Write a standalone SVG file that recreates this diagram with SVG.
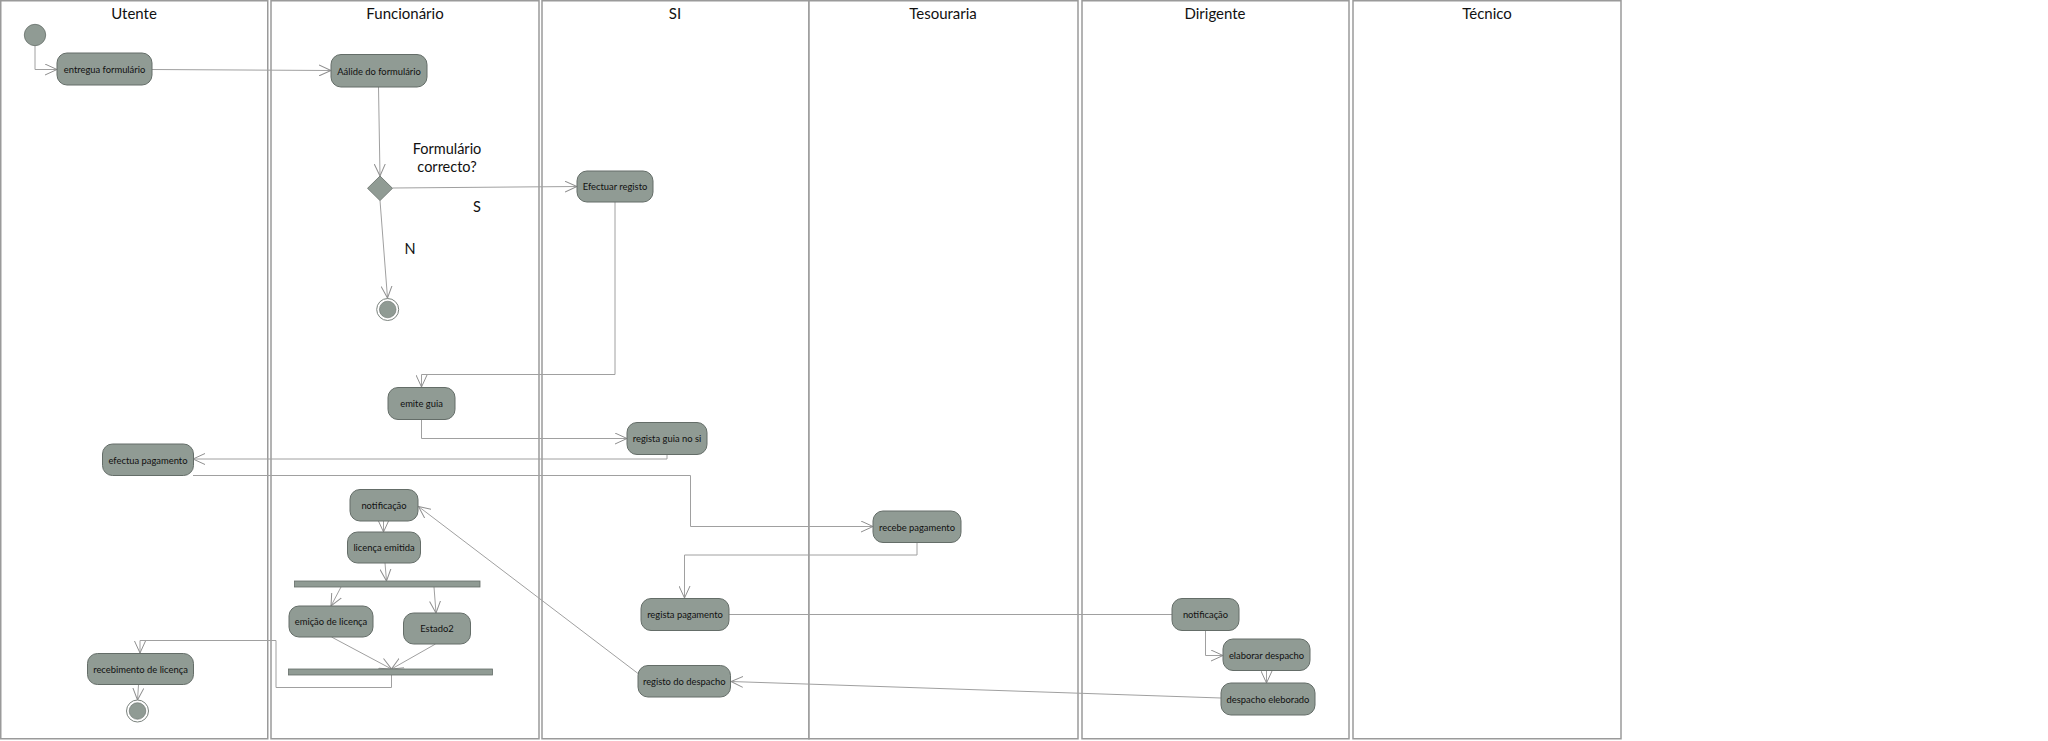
<svg xmlns="http://www.w3.org/2000/svg" width="2048" height="741" viewBox="0 0 2048 741">
<defs>
<marker id="arr" markerUnits="userSpaceOnUse" markerWidth="14" markerHeight="12" refX="12" refY="6" orient="auto" viewBox="0 0 14 12">
<path d="M0,0.5 L12,6 L0,11.5" fill="none" stroke="#8f8f8f" stroke-width="1"/>
</marker>
</defs>
<style>
.lane{fill:#ffffff;stroke:#9a9a9a;stroke-width:1.5}
.hdr{font-family:Lato,"Open Sans",sans-serif;font-size:15px;fill:#111;text-anchor:middle}
.node{fill:#909b94;stroke:#646d68;stroke-width:1}
.lbl{font-family:Lato,"Open Sans",sans-serif;font-size:9.4px;fill:#111;text-anchor:middle;dominant-baseline:central}
.big{font-family:Lato,"Open Sans",sans-serif;font-size:14.5px;fill:#111;text-anchor:middle}
.c{fill:none;stroke:#a0a0a0;stroke-width:1}
.ca{fill:none;stroke:#a0a0a0;stroke-width:1;marker-end:url(#arr)}
.bar{fill:#909b94;stroke:#646d68;stroke-width:0.8}
</style>
<rect width="2048" height="741" fill="#ffffff"/>
<g id="lanes">
<rect class="lane" x="0.75" y="0.75" width="267" height="738"/>
<rect class="lane" x="271" y="0.75" width="268" height="738"/>
<rect class="lane" x="542" y="0.75" width="267" height="738"/>
<rect class="lane" x="809" y="0.75" width="269" height="738"/>
<rect class="lane" x="1082" y="0.75" width="267" height="738"/>
<rect class="lane" x="1353" y="0.75" width="268" height="738"/>
<text class="hdr" x="134" y="19">Utente</text>
<text class="hdr" x="405" y="19">Funcionário</text>
<text class="hdr" x="675" y="19">SI</text>
<text class="hdr" x="943" y="19">Tesouraria</text>
<text class="hdr" x="1215" y="19">Dirigente</text>
<text class="hdr" x="1487" y="19">Técnico</text>
</g>
<g id="connectors">
<path class="ca" d="M35,46 L35,69.5 L57,69.5"/>
<path class="ca" d="M152,69.5 L331,70.5"/>
<path class="ca" d="M378.5,87 L380,176"/>
<path class="ca" d="M392.5,188 L577,186.5"/>
<path class="ca" d="M380,200.5 L387.5,298"/>
<path class="ca" d="M615,202 L615,374.5 L421.5,374.5 L421.5,387"/>
<path class="ca" d="M421.5,419 L421.5,438.5 L627,438.5"/>
<path class="ca" d="M667,454.5 L667,459 L193,459"/>
<path class="ca" d="M193,475.5 L690.5,475.5 L690.5,526.5 L873,526.5"/>
<path class="ca" d="M917,542 L917,555 L684.5,555 L684.5,598"/>
<path class="c" d="M729,614.5 L1172,614.5" stroke-width="1.6"/>
<path class="ca" d="M1205.5,630.5 L1205.5,655.5 L1223,655.5"/>
<path class="ca" d="M1266.5,670.5 L1266.5,683"/>
<path class="ca" d="M1221,698 L731,681.5"/>
<path class="ca" d="M640,675 L418.5,506.5"/>
<path class="ca" d="M383.5,521 L383.5,532"/>
<path class="ca" d="M385,563 L386.5,581"/>
<path class="ca" d="M341,587 L331,606"/>
<path class="ca" d="M434,587 L436,613"/>
<path class="ca" d="M331.5,637 L391.5,669"/>
<path class="ca" d="M435.5,644 L391.5,669"/>
<path class="ca" d="M391.5,675 L391.5,687.5 L276,687.5 L276,640.5 L140,640.5 L140,653"/>
<path class="ca" d="M138.5,685 L137.5,700"/>
</g>
<g id="start">
<circle cx="35" cy="35" r="10.7" fill="#909b94" stroke="#646d68" stroke-width="0.8"/>
</g>
<g id="n-entregua">
<rect class="node" x="57" y="53" width="95" height="32" rx="10"/>
<text class="lbl" x="104.5" y="69">entregua formulário</text>
</g>
<g id="n-aalide">
<rect class="node" x="331" y="54.5" width="96" height="32.5" rx="10"/>
<text class="lbl" x="379" y="71">Aálide do formulário</text>
</g>
<g id="decision">
<polygon points="380,176 392.5,188.3 380,200.6 367.5,188.3" fill="#909b94" stroke="#646d68" stroke-width="0.8"/>
<text class="big" x="447" y="154">Formulário</text>
<text class="big" x="447" y="172">correcto?</text>
<text class="big" x="477" y="212">S</text>
<text class="big" x="410" y="254">N</text>
</g>
<g id="end1">
<circle cx="387.7" cy="309.5" r="11" fill="#ffffff" stroke="#7a827d" stroke-width="1"/>
<circle cx="387.7" cy="309.5" r="8.3" fill="#909b94" stroke="#646d68" stroke-width="0.6"/>
</g>
<g id="n-efectuar">
<rect class="node" x="577" y="171" width="76" height="31" rx="10"/>
<text class="lbl" x="615" y="186.5">Efectuar registo</text>
</g>
<g id="n-emite">
<rect class="node" x="388" y="387.5" width="67" height="32" rx="10"/>
<text class="lbl" x="421.5" y="403.5">emite guia</text>
</g>
<g id="n-regista-guia">
<rect class="node" x="627" y="422.5" width="80" height="32" rx="10"/>
<text class="lbl" x="667" y="438.5">regista guia no si</text>
</g>
<g id="n-efectua">
<rect class="node" x="102.5" y="444" width="91" height="31.5" rx="10"/>
<text class="lbl" x="148" y="460">efectua pagamento</text>
</g>
<g id="n-recebe">
<rect class="node" x="873" y="511" width="88" height="31.5" rx="10"/>
<text class="lbl" x="917" y="527">recebe pagamento</text>
</g>
<g id="n-regista-pag">
<rect class="node" x="641" y="598.5" width="88" height="32" rx="10"/>
<text class="lbl" x="685" y="614.5">regista pagamento</text>
</g>
<g id="n-notif-dir">
<rect class="node" x="1172" y="598.5" width="67" height="32" rx="10"/>
<text class="lbl" x="1205.5" y="614.5">notificação</text>
</g>
<g id="n-elaborar">
<rect class="node" x="1223" y="639" width="87" height="31.5" rx="10"/>
<text class="lbl" x="1266.5" y="655">elaborar despacho</text>
</g>
<g id="n-despacho-elab">
<rect class="node" x="1221" y="683" width="94" height="32" rx="10"/>
<text class="lbl" x="1268" y="699">despacho eleborado</text>
</g>
<g id="n-registo-desp">
<rect class="node" x="638" y="665.5" width="92.5" height="31.5" rx="10"/>
<text class="lbl" x="684.2" y="681.5">registo do despacho</text>
</g>
<g id="n-notif-func">
<rect class="node" x="350" y="489.5" width="68" height="31.5" rx="10"/>
<text class="lbl" x="384" y="505.5">notificação</text>
</g>
<g id="n-licenca-emitida">
<rect class="node" x="347.5" y="532" width="73" height="31" rx="10"/>
<text class="lbl" x="384" y="547.5">licença emitida</text>
</g>
<g id="fork">
<rect class="bar" x="294.5" y="581" width="185.5" height="6"/>
</g>
<g id="n-emicao">
<rect class="node" x="289" y="606" width="84" height="31" rx="10"/>
<text class="lbl" x="331" y="621.5">emição de licença</text>
</g>
<g id="n-estado2">
<rect class="node" x="403.5" y="613" width="67" height="31" rx="10"/>
<text class="lbl" x="437" y="628.5">Estado2</text>
</g>
<g id="join">
<rect class="bar" x="288.5" y="669" width="204" height="6"/>
</g>
<g id="n-recebimento">
<rect class="node" x="87.5" y="653.5" width="106" height="31" rx="10"/>
<text class="lbl" x="140.5" y="669">recebimento de licença</text>
</g>
<g id="end2">
<circle cx="137.5" cy="711" r="11" fill="#ffffff" stroke="#7a827d" stroke-width="1"/>
<circle cx="137.5" cy="711" r="8.3" fill="#909b94" stroke="#646d68" stroke-width="0.6"/>
</g>
</svg>
